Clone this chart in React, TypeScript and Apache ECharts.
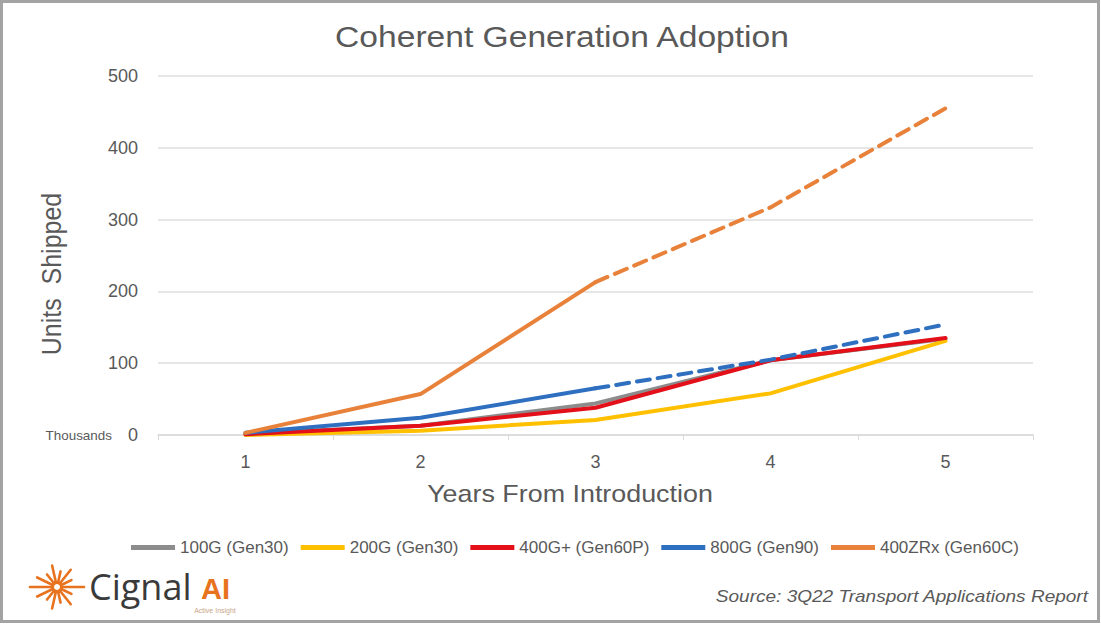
import React, { useEffect, useRef } from "react";
import * as echarts from "echarts";

const categories = ["1", "2", "3", "4", "5"];
const seriesNames = ["100G (Gen30)", "200G (Gen30)", "400G+ (Gen60P)", "800G (Gen90)", "400ZRx (Gen60C)"];
const v100G = [2, 13, 44, 104, 134];
const v200G = [0, 6, 21, 58, 131];
const v400Gp = [1, 13, 38, 104, 135];
const v800G = [3, 24, 65, 105, 154];
const v400ZR = [3, 57, 213, 317, 455];
const forecastFrom = 2; // index where the dashed (forecast) part starts for 800G and 400ZRx
const yTicks = { min: 0, max: 500, interval: 100 };
const colors = ["#8c8c8c", "#ffc000", "#e3101a", "#2f6fc0", "#e8813a"];

const FONT = 'Arial, "Liberation Sans", sans-serif';
const TXT = "#595959";
const STRETCH = 1.12;

function solidPart(arr: number[]) {
  return arr.map((v, i) => (i <= forecastFrom ? v : null));
}
function dashedPart(arr: number[]) {
  return arr.map((v, i) => (i >= forecastFrom ? v : null));
}

function sunRays() {
  const cx = 57, cy = 587;
  const out: any[] = [];
  const n = 14;
  for (let i = 0; i < n; i++) {
    const a = (i / n) * Math.PI * 2;
    const horiz = Math.abs(Math.cos(a)) > 0.97;
    const len = horiz ? 27 : i % 2 === 0 ? 22 : 16;
    out.push({
      type: "line",
      shape: {
        x1: cx + Math.cos(a) * 7,
        y1: cy + Math.sin(a) * 7,
        x2: cx + Math.cos(a) * len,
        y2: cy + Math.sin(a) * len,
      },
      style: { stroke: "#e8731f", lineWidth: 2.6, lineCap: "round" },
      silent: true,
    });
  }
  out.push({
    type: "ring",
    shape: { cx, cy, r: 6.5, r0: 3 },
    style: { fill: "#e8731f" },
    silent: true,
  });
  return out;
}

export default function App() {
  const ref = useRef<HTMLDivElement>(null);
  useEffect(() => {
    document.body.style.margin = "0";
    if (!ref.current) return;
    const chart = echarts.init(ref.current, null, { renderer: "svg" });
    const lineBase = (name: string, data: (number | null)[], color: string, dashed: boolean, z: number) => ({
      name,
      type: "line",
      data,
      symbol: "none",
      connectNulls: false,
      z,
      itemStyle: { color },
      lineStyle: { color, width: 4, type: dashed ? [13, 8] : "solid", cap: "round" },
    });
    chart.setOption({
      animation: false,
      backgroundColor: "#ffffff",
      textStyle: { fontFamily: FONT },
      grid: { left: 158, right: 68, top: 76, bottom: 189 },
      legend: {
        data: seriesNames,
        top: 539,
        left: 131,
        padding: 0,
        icon: "rect",
        itemWidth: 44,
        itemHeight: 5,
        itemGap: 12,
        textStyle: { fontSize: 17, color: TXT, fontFamily: FONT },
      },
      xAxis: {
        type: "category",
        data: categories,
        boundaryGap: true,
        axisLine: { lineStyle: { color: "#d9d9d9", width: 1.5 } },
        axisTick: { show: true, alignWithLabel: false, length: 5, lineStyle: { color: "#d9d9d9" } },
        axisLabel: { fontSize: 18, color: TXT, margin: 18 },
      },
      yAxis: {
        type: "value",
        min: yTicks.min,
        max: yTicks.max,
        interval: yTicks.interval,
        axisLine: { show: false },
        axisTick: { show: false },
        axisLabel: { fontSize: 18, color: TXT, margin: 20 },
        splitLine: { lineStyle: { color: "#dedede", width: 1.5 } },
      },
      series: [
        lineBase(seriesNames[0], v100G, colors[0], false, 2),
        lineBase(seriesNames[1], v200G, colors[1], false, 3),
        lineBase(seriesNames[2], v400Gp, colors[2], false, 4),
        lineBase(seriesNames[3], solidPart(v800G), colors[3], false, 5),
        lineBase(seriesNames[3], dashedPart(v800G), colors[3], true, 5),
        lineBase(seriesNames[4], solidPart(v400ZR), colors[4], false, 6),
        lineBase(seriesNames[4], dashedPart(v400ZR), colors[4], true, 6),
      ],
      graphic: [
        {
          type: "rect",
          shape: { x: 1.5, y: 1.5, width: 1097, height: 620 },
          style: { fill: "none", stroke: "#a3a3a3", lineWidth: 3 },
          silent: true,
          z: 100,
        },
        {
          type: "text",
          x: 562,
          y: 37,
          scaleX: STRETCH,
          style: {
            text: "Coherent Generation Adoption",
            fontSize: 30,
            fontFamily: FONT,
            fill: TXT,
            align: "center",
            verticalAlign: "middle",
          },
        },
        {
          type: "text",
          x: 570,
          y: 494,
          scaleX: STRETCH,
          style: {
            text: "Years From Introduction",
            fontSize: 24,
            fontFamily: FONT,
            fill: TXT,
            align: "center",
            verticalAlign: "middle",
          },
        },
        {
          type: "text",
          x: 52,
          y: 274,
          rotation: Math.PI / 2,
          scaleY: STRETCH,
          style: {
            text: "Units  Shipped",
            fontSize: 25,
            fontFamily: FONT,
            fill: TXT,
            align: "center",
            verticalAlign: "middle",
          },
        },
        {
          type: "text",
          x: 112,
          y: 436,
          scaleX: STRETCH,
          style: {
            text: "Thousands",
            fontSize: 12,
            fontFamily: FONT,
            fill: TXT,
            align: "right",
            verticalAlign: "middle",
          },
        },
        {
          type: "text",
          x: 1088,
          y: 596,
          scaleX: STRETCH,
          style: {
            text: "Source: 3Q22 Transport Applications Report",
            fontSize: 17,
            fontStyle: "italic",
            fontFamily: FONT,
            fill: TXT,
            align: "right",
            verticalAlign: "middle",
          },
        },
        ...sunRays(),
        {
          type: "text",
          x: 89,
          y: 586,
          style: {
            text: "Cignal",
            fontSize: 36,
            lineHeight: 28,
            fontWeight: 500,
            fontFamily: '"Open Sans", Arial, sans-serif',
            fill: "#3a3a3a",
            align: "left",
            verticalAlign: "middle",
          },
        },
        {
          type: "text",
          x: 201,
          y: 589,
          style: {
            text: "AI",
            fontSize: 29,
            lineHeight: 24,
            fontWeight: "bold",
            fontFamily: FONT,
            fill: "#e8731f",
            align: "left",
            verticalAlign: "middle",
          },
        },
        {
          type: "text",
          x: 215,
          y: 610,
          style: {
            text: "Active Insight",
            fontSize: 7,
            fontFamily: FONT,
            fill: "#c9a68a",
            align: "center",
            verticalAlign: "middle",
          },
        },
      ],
    });
    return () => chart.dispose();
  }, []);
  return <div ref={ref} style={{ width: 1101, height: 624 }} />;
}
